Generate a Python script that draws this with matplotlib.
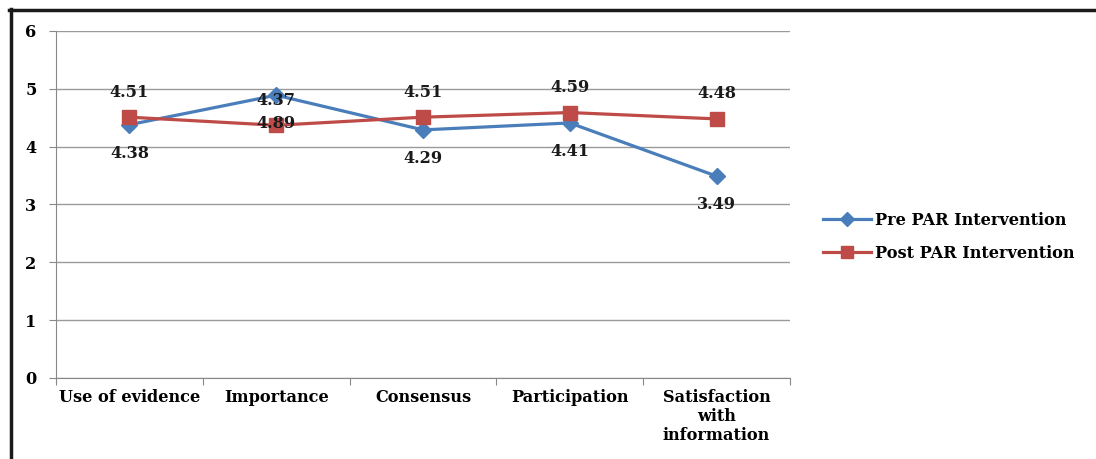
import matplotlib.pyplot as plt
from matplotlib.lines import Line2D

categories = ["Use of evidence", "Importance", "Consensus", "Participation",
              "Satisfaction\nwith\ninformation"]
pre_par = [4.38, 4.89, 4.29, 4.41, 3.49]
post_par = [4.51, 4.37, 4.51, 4.59, 4.48]
# the labels as printed in the original chart
pre_labels = ["4.38", "4.89", "4.29", "4.41", "3.49"]
post_labels = ["4.51", "4.37", "4.51", "4.59", "4.48"]

plt.rcParams['font.family'] = ['DejaVu Serif']
plt.rcParams['font.weight'] = 'bold'

fig = plt.figure(figsize=(10.96, 4.59), dpi=100)
ax = fig.add_axes([56 / 1096, 1 - 378 / 459, (790 - 56) / 1096, (378 - 31) / 459])

blue = '#4A7EBB'
red = '#BE4B48'
fs = 11.6
x = list(range(len(categories)))

ax.plot(x, pre_par, color=blue, lw=2.3, marker='D', ms=8, label='Pre PAR Intervention', zorder=3)
ax.plot(x, post_par, color=red, lw=2.3, marker='s', ms=10, label='Post PAR Intervention', zorder=3)

for i in x:
    ax.annotate(pre_labels[i], (i, pre_par[i]), xytext=(0, -20.5), textcoords='offset points',
                ha='center', va='center', fontsize=fs, fontweight='bold', color='#1a1a1a', zorder=4)
    ax.annotate(post_labels[i], (i, post_par[i]), xytext=(0, 18), textcoords='offset points',
                ha='center', va='center', fontsize=fs, fontweight='bold', color='#1a1a1a', zorder=4)

ax.set_xlim(-0.5, len(categories) - 0.5)
ax.set_ylim(0, 6)
ax.set_yticks(range(0, 7))
ax.set_xticks([i + 0.5 for i in range(-1, len(categories))])
ax.set_xticklabels([])
ax.set_xticks(x, minor=True)
ax.set_xticklabels(categories, minor=True, fontsize=fs, fontweight='bold', linespacing=1.15)
ax.tick_params(axis='x', which='minor', length=0, pad=8)
ax.tick_params(axis='x', which='major', length=5, color='#888888', direction='out')
ax.tick_params(axis='y', length=5, color='#888888', labelsize=fs, pad=9)
for lab in ax.get_yticklabels():
    lab.set_fontweight('bold')

ax.grid(axis='y', color='#9a9a9a', lw=1)
ax.set_axisbelow(True)
for s in ['top', 'right']:
    ax.spines[s].set_visible(False)
ax.spines['left'].set_color('#888888')
ax.spines['bottom'].set_color('#888888')

fig.legend(loc='center left', bbox_to_anchor=(808 / 1096, 1 - 237 / 459), frameon=False,
           prop={'size': fs, 'weight': 'bold'}, handlelength=3.0, handletextpad=0.25,
           labelspacing=1.0, markerscale=0.85)

# outer frame from the original clipping
fig.add_artist(Line2D([10.5 / 1096, 10.5 / 1096], [0, 1 - 9 / 459], color='#1a1a1a', lw=2.5,
                      transform=fig.transFigure))
fig.add_artist(Line2D([9 / 1096, 1], [1 - 9.5 / 459, 1 - 9.5 / 459], color='#1a1a1a', lw=2.5,
                      transform=fig.transFigure))

fig.savefig('out.png', dpi=100)
